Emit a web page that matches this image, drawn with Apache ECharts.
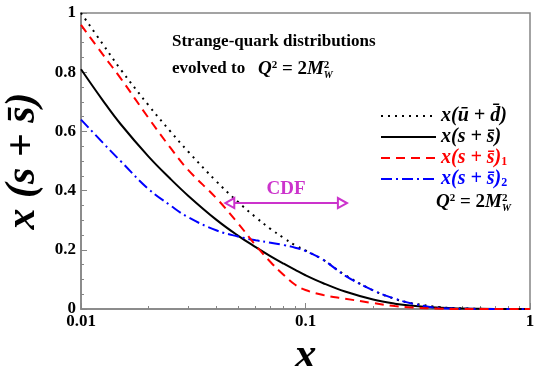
<!DOCTYPE html>
<html>
<head>
<meta charset="utf-8">
<script src="https://cdn.jsdelivr.net/npm/echarts@6/dist/echarts.min.js"></script>
<style>
html, body { margin: 0; padding: 0; background: #fff; }
#main { width: 534px; height: 366px; }
</style>
</head>
<body>
<div id="main"></div>
<script>
// x grid shared by all curves
var xs = [0.01, 0.0125, 0.015, 0.02, 0.025, 0.03, 0.04, 0.05, 0.06, 0.07, 0.08, 0.09, 0.1, 0.12, 0.15, 0.2, 0.25, 0.3, 0.4, 0.5, 0.6, 0.8, 1];
// x(ubar + dbar), dotted black
var ubarDbar = [1.0, 0.895, 0.81, 0.688, 0.6, 0.532, 0.432, 0.362, 0.31, 0.27, 0.24, 0.215, 0.198, 0.166, 0.115, 0.063, 0.034, 0.019, 0.006, 0.002, 0.0005, 0, 0];
// x(s + sbar), solid black
var sSbar = [0.81, 0.705, 0.625, 0.515, 0.44, 0.383, 0.302, 0.248, 0.209, 0.178, 0.153, 0.132, 0.114, 0.087, 0.059, 0.032, 0.018, 0.011, 0.004, 0.0015, 0.0005, 0, 0];
// x(s + sbar)_1, red dashed
var sSbar1 = [0.96, 0.86, 0.78, 0.645, 0.545, 0.47, 0.375, 0.29, 0.215, 0.158, 0.115, 0.082, 0.064, 0.047, 0.035, 0.02, 0.01, 0.005, 0.001, 0, 0, 0, 0];
// x(s + sbar)_2, blue dash-dot
var sSbar2 = [0.64, 0.562, 0.5, 0.405, 0.35, 0.31, 0.266, 0.245, 0.232, 0.224, 0.216, 0.207, 0.196, 0.166, 0.113, 0.063, 0.035, 0.018, 0.003, 0.001, 0, 0, 0];

var xMinorTicks = [0.02, 0.03, 0.04, 0.05, 0.06, 0.07, 0.08, 0.09, 0.2, 0.3, 0.4, 0.5, 0.6, 0.7, 0.8, 0.9];
var cdfRange = [0.046, 0.146];
var cdfLevel = 0.358;

var serif = '"Liberation Serif", "DejaVu Serif", serif';
var axisGray = '#858585';

function pairs(ys) {
	return xs.map(function(x, i) {
		return [ x, ys[i] ];
	});
}

var legendText = {
	'ubar' : '{t|x(ū + d\u0304)}',
	's' : '{t|x(s + s\u0304)}',
	's1' : '{t|x(s + s\u0304)}{sub|1}',
	's2' : '{t|x(s + s\u0304)}{sub|2}'
};

// Q^2 = 2 M_W^2 label, used twice
var qRich = {
	n : { font : 'bold 17px ' + serif, lineHeight : 22 },
	m : { font : 'bold 19px ' + serif, lineHeight : 22 },
	i : { font : 'bold italic 19px ' + serif, lineHeight : 22 },
	sup : { font : 'bold 11px ' + serif, lineHeight : 10, verticalAlign : 'top', padding : [ 2, 0, 0, 0 ] },
	supz : { font : 'bold 11px ' + serif, lineHeight : 10, verticalAlign : 'top', padding : [ 2, 0, 0, 0 ], width : 0 },
	sub : { font : 'bold italic 10px ' + serif, lineHeight : 10, verticalAlign : 'bottom' }
};

var myChart = echarts.init(document.getElementById('main'));

var option = {
	backgroundColor : '#fff',
	animation : false,
	grid : {
		left : 81,
		right : 4,
		top : 13,
		bottom : 57,
		outerBoundsMode : 'none',
		containLabel : false,
		show : true,
		borderColor : axisGray,
		borderWidth : 1.5
	},
	xAxis : [ {
		type : 'log',
		logBase : 10,
		min : 0.01,
		max : 1,
		name : 'x',
		nameLocation : 'middle',
		nameGap : 19,
		nameTextStyle : {
			fontFamily : serif,
			fontSize : 44,
			fontWeight : 'bold',
			fontStyle : 'italic',
			color : '#000'
		},
		axisLine : { lineStyle : { color : axisGray, width : 1.5 } },
		axisTick : { inside : true, length : 6, lineStyle : { color : axisGray } },
		splitLine : { show : false },
		axisLabel : {
			fontFamily : serif,
			fontSize : 17,
			fontWeight : 'bold',
			color : '#000',
			margin : 4
		}
	}, {
		type : 'log',
		logBase : 10,
		min : 0.01,
		max : 1,
		position : 'bottom',
		axisLine : { show : false },
		axisTick : {
			inside : true,
			length : 3,
			customValues : xMinorTicks,
			lineStyle : { color : axisGray }
		},
		axisLabel : { show : false },
		splitLine : { show : false }
	} ],
	yAxis : {
		type : 'value',
		min : 0,
		max : 1,
		interval : 0.2,
		name : 'x (s + s\u0304)',
		nameLocation : 'middle',
		nameGap : 30,
		nameTextStyle : {
			fontFamily : serif,
			fontSize : 42,
			fontWeight : 'bold',
			fontStyle : 'italic',
			color : '#000'
		},
		axisLine : { show : true, lineStyle : { color : axisGray, width : 1.5 } },
		axisTick : { show : true, inside : true, length : 6, lineStyle : { color : axisGray } },
		minorTick : { show : true, splitNumber : 4, length : 3, lineStyle : { color : axisGray } },
		splitLine : { show : false },
		axisLabel : {
			fontFamily : serif,
			fontSize : 17,
			fontWeight : 'bold',
			color : '#000',
			margin : 5
		}
	},
	legend : {
		orient : 'vertical',
		left : 375,
		top : 101,
		itemWidth : 55,
		itemHeight : 14,
		itemGap : 1,
		itemStyle : { opacity : 0 },
		formatter : function(name) {
			return legendText[name];
		},
		textStyle : {
			rich : {
				t : {
					fontFamily : serif,
					fontSize : 20,
					fontWeight : 'bold',
					fontStyle : 'italic',
					lineHeight : 20
				},
				sub : {
					fontFamily : serif,
					fontSize : 12,
					fontWeight : 'bold',
					lineHeight : 12,
					verticalAlign : 'bottom',
					padding : [ 6, 0, 0, 0 ]
				}
			}
		},
		data : [ {
			name : 'ubar',
			textStyle : { color : '#000' }
		}, {
			name : 's',
			textStyle : { color : '#000' }
		}, {
			name : 's1',
			textStyle : { color : '#ff0000' }
		}, {
			name : 's2',
			textStyle : { color : '#0000ff' }
		} ]
	},
	graphic : [ {
		type : 'text',
		left : 172,
		top : 33,
		style : {
			text : 'Strange-quark distributions',
			font : 'bold 17px ' + serif,
			fill : '#000'
		}
	}, {
		type : 'text',
		left : 172,
		top : 58,
		style : {
			text : '{n|evolved to   }{i|Q}{sup|2}{m| = 2}{i|M}{supz|2}{sub|W}',
			fill : '#000',
			rich : qRich
		}
	}, {
		type : 'text',
		left : 436,
		top : 191,
		style : {
			text : '{i|Q}{sup|2}{m| = 2}{i|M}{supz|2}{sub|W}',
			fill : '#000',
			rich : qRich
		}
	} ],
	series : [ {
		name : 'ubar',
		type : 'line',
		data : pairs(ubarDbar),
		smooth : 0.4,
		symbol : 'none',
		lineStyle : { color : '#000', width : 2, type : [ 2, 5 ] },
		itemStyle : { color : '#000' },
		z : 3
	}, {
		name : 's',
		type : 'line',
		data : pairs(sSbar),
		smooth : 0.4,
		symbol : 'none',
		lineStyle : { color : '#000', width : 2, type : 'solid' },
		itemStyle : { color : '#000' },
		z : 2
	}, {
		name : 's1',
		type : 'line',
		data : pairs(sSbar1),
		smooth : 0.4,
		symbol : 'none',
		lineStyle : { color : '#ff0000', width : 2, type : [ 9, 6 ] },
		itemStyle : { color : '#ff0000' },
		z : 4
	}, {
		name : 's2',
		type : 'line',
		data : pairs(sSbar2),
		smooth : 0.4,
		symbol : 'none',
		lineStyle : { color : '#0000ff', width : 2, type : [ 11, 4, 2, 4 ] },
		itemStyle : { color : '#0000ff' },
		z : 3,
		markLine : {
			silent : true,
			symbol : [ 'emptyTriangle', 'emptyTriangle' ],
			symbolSize : [ 10, 9 ],
			lineStyle : { color : '#cc33cc', width : 2, type : 'solid' },
			itemStyle : { color : '#cc33cc' },
			label : {
				show : true,
				position : 'middle',
				formatter : 'CDF',
				color : '#cc33cc',
				fontFamily : serif,
				fontSize : 19,
				fontWeight : 'bold',
				distance : 4
			},
			data : [ [ {
				coord : [ cdfRange[0], cdfLevel ]
			}, {
				coord : [ cdfRange[1], cdfLevel ]
			} ] ]
		}
	} ]
};

myChart.setOption(option);
</script>
</body>
</html>
